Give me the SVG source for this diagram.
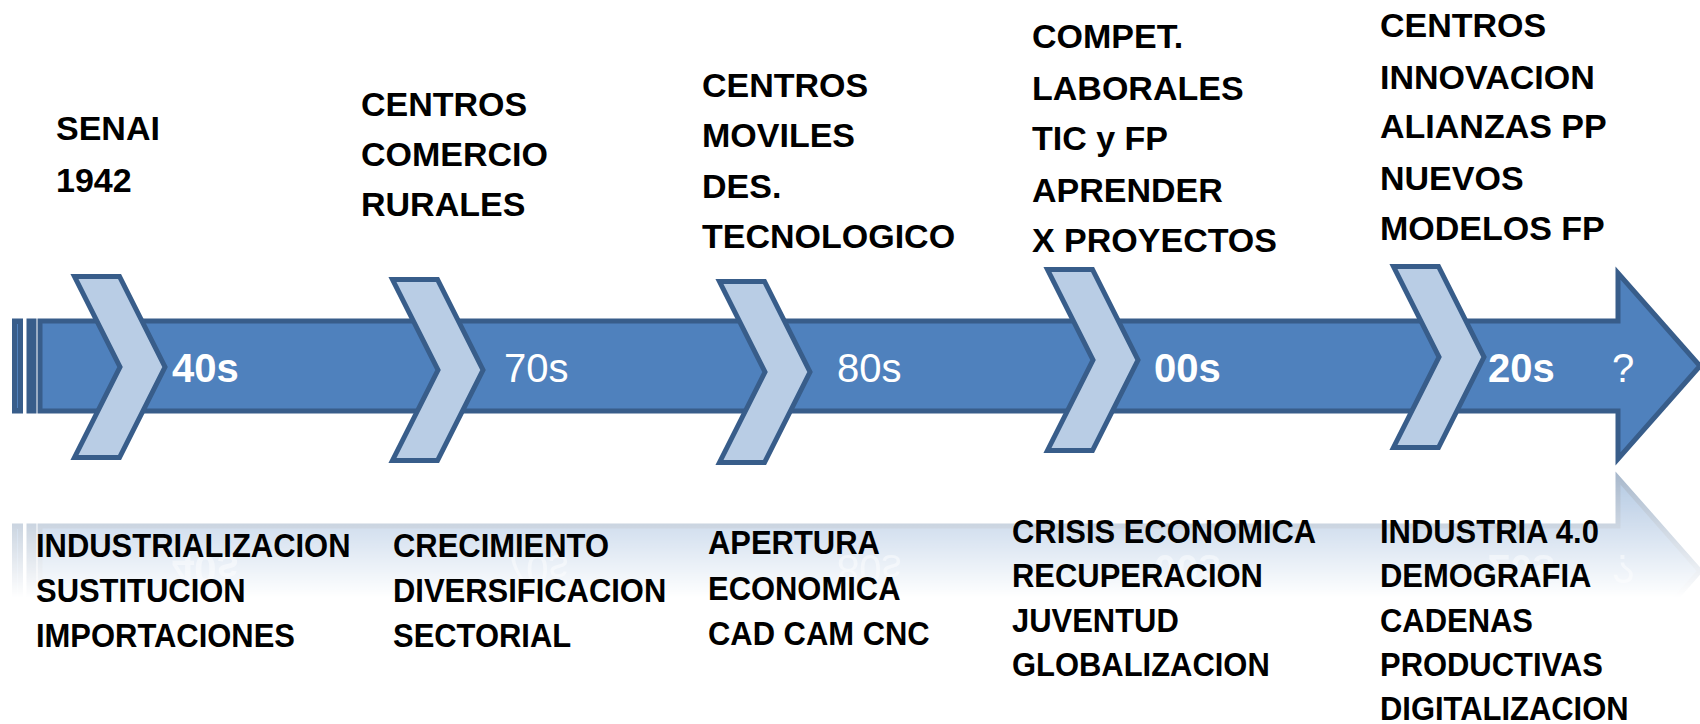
<svg xmlns="http://www.w3.org/2000/svg" xmlns:xlink="http://www.w3.org/1999/xlink" width="1700" height="724" viewBox="0 0 1700 724">
  <defs>
    <style>
      .shape { fill: #4f81bd; stroke: #385d8a; stroke-width: 5; stroke-linejoin: miter; }
      .chev { fill: #b9cde5; stroke: #385d8a; stroke-width: 5; stroke-linejoin: miter; }
      .top { font-family: "Liberation Sans", Arial, sans-serif; font-weight: bold; font-size: 34px; fill: #000; }
      .bot { font-family: "Liberation Sans", Arial, sans-serif; font-weight: bold; font-size: 34px; fill: #000; }
      .yr { font-family: "Liberation Sans", Arial, sans-serif; font-size: 40px; fill: #fff; }
      .yrb { font-weight: bold; }
    </style>
    <path id="chev" class="chev" d="M2.5,2.5 H47.5 L93,93 L47.5,183.5 H2.5 L48,93 Z"/>
    <g id="arrowShape">
      <rect class="shape" x="14.5" y="321" width="6" height="90"/>
      <rect class="shape" x="29" y="321" width="5" height="90"/>
      <path class="shape" d="M40,321 H1618 V273 L1700,366 L1618,459 V411 H40 Z"/>
    </g>
    <g id="yearLabels">
      <text class="yr yrb" x="172" y="382">40s</text>
      <text class="yr" x="504" y="382">70s</text>
      <text class="yr" x="837" y="382">80s</text>
      <text class="yr yrb" x="1154" y="382">00s</text>
      <text class="yr yrb" x="1488" y="382">20s</text>
      <text class="yr" x="1612" y="382">?</text>
    </g>
    <linearGradient id="fadeGrad" gradientUnits="userSpaceOnUse" x1="0" y1="470" x2="0" y2="598">
      <stop offset="0" stop-color="#fff" stop-opacity="0.45"/>
      <stop offset="0.45" stop-color="#fff" stop-opacity="0.25"/>
      <stop offset="1" stop-color="#fff" stop-opacity="0"/>
    </linearGradient>
    <mask id="fade" maskUnits="userSpaceOnUse" x="0" y="460" width="1700" height="264">
      <rect x="0" y="460" width="1700" height="264" fill="url(#fadeGrad)"/>
    </mask>
  </defs>

  <rect x="0" y="0" width="1700" height="724" fill="#fff"/>

  <!-- reflection of the timeline arrow -->
  <g id="reflection" mask="url(#fade)">
    <g transform="matrix(1,0,0,-1,0,937)">
      <use xlink:href="#arrowShape"/>
      <use xlink:href="#yearLabels" opacity="0.45"/>
    </g>
  </g>

  <!-- timeline arrow (connector) -->
  <g id="connectors">
    <use xlink:href="#arrowShape"/>
  </g>

  <g id="node-40s">
    <use xlink:href="#chev" x="72" y="274"/>
    <text class="top" x="56" y="140">SENAI</text>
    <text class="top" x="56" y="192">1942</text>
    <g transform="translate(36,0) scale(0.91,1)">
      <text class="bot" x="0" y="557">INDUSTRIALIZACION</text>
      <text class="bot" x="0" y="602">SUSTITUCION</text>
      <text class="bot" x="0" y="647">IMPORTACIONES</text>
    </g>
  </g>

  <g id="node-70s">
    <use xlink:href="#chev" x="390" y="277"/>
    <text class="top" x="361" y="116">CENTROS</text>
    <text class="top" x="361" y="166">COMERCIO</text>
    <text class="top" x="361" y="216">RURALES</text>
    <g transform="translate(393,0) scale(0.91,1)">
      <text class="bot" x="0" y="557">CRECIMIENTO</text>
      <text class="bot" x="0" y="602">DIVERSIFICACION</text>
      <text class="bot" x="0" y="647">SECTORIAL</text>
    </g>
  </g>

  <g id="node-80s">
    <use xlink:href="#chev" x="717" y="279"/>
    <text class="top" x="702" y="97">CENTROS</text>
    <text class="top" x="702" y="147">MOVILES</text>
    <text class="top" x="702" y="198">DES.</text>
    <text class="top" x="702" y="248">TECNOLOGICO</text>
    <g transform="translate(708,0) scale(0.91,1)">
      <text class="bot" x="0" y="554">APERTURA</text>
      <text class="bot" x="0" y="600">ECONOMICA</text>
      <text class="bot" x="0" y="645">CAD CAM CNC</text>
    </g>
  </g>

  <g id="node-00s">
    <use xlink:href="#chev" x="1045" y="267"/>
    <text class="top" x="1032" y="48">COMPET.</text>
    <text class="top" x="1032" y="100">LABORALES</text>
    <text class="top" x="1032" y="150">TIC y FP</text>
    <text class="top" x="1032" y="202">APRENDER</text>
    <text class="top" x="1032" y="252">X PROYECTOS</text>
    <g transform="translate(1012,0) scale(0.91,1)">
      <text class="bot" x="0" y="543">CRISIS ECONOMICA</text>
      <text class="bot" x="0" y="587">RECUPERACION</text>
      <text class="bot" x="0" y="632">JUVENTUD</text>
      <text class="bot" x="0" y="676">GLOBALIZACION</text>
    </g>
  </g>

  <g id="node-20s">
    <use xlink:href="#chev" x="1391" y="264"/>
    <text class="top" x="1380" y="37">CENTROS</text>
    <text class="top" x="1380" y="89">INNOVACION</text>
    <text class="top" x="1380" y="138">ALIANZAS PP</text>
    <text class="top" x="1380" y="190">NUEVOS</text>
    <text class="top" x="1380" y="240">MODELOS FP</text>
    <g transform="translate(1380,0) scale(0.91,1)">
      <text class="bot" x="0" y="543">INDUSTRIA 4.0</text>
      <text class="bot" x="0" y="587">DEMOGRAFIA</text>
      <text class="bot" x="0" y="632">CADENAS</text>
      <text class="bot" x="0" y="676">PRODUCTIVAS</text>
      <text class="bot" x="0" y="720">DIGITALIZACION</text>
    </g>
  </g>

  <g id="year-labels">
    <use xlink:href="#yearLabels"/>
  </g>
</svg>
